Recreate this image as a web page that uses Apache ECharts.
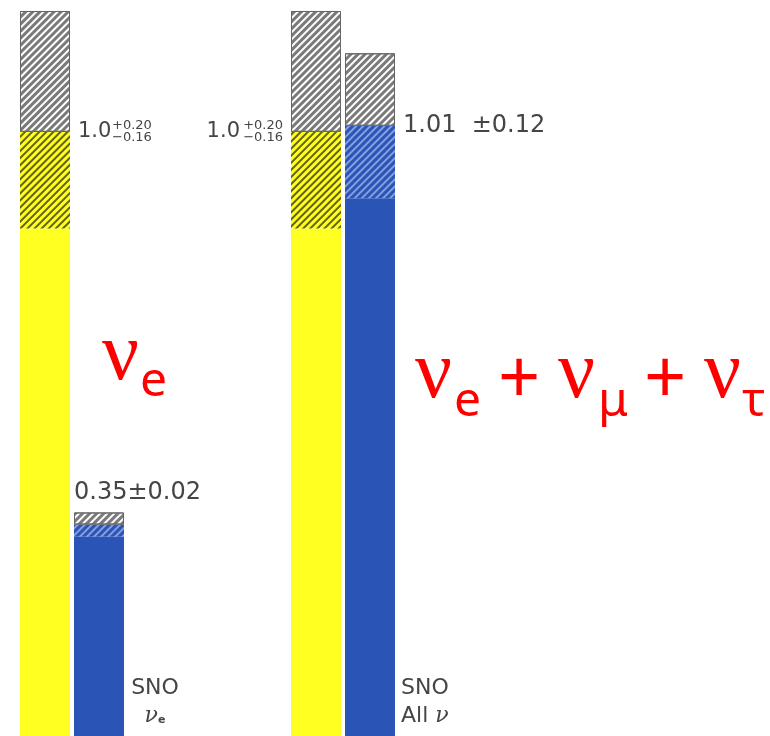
<!DOCTYPE html>
<html>
<head>
<meta charset="utf-8">
<script src="https://cdn.jsdelivr.net/npm/echarts@6/dist/echarts.min.js"></script>
<style>
  html, body { margin: 0; padding: 0; background: #ffffff; }
  #chart { width: 770px; height: 736px; }
</style>
</head>
<body>
<div id="chart"></div>
<script>
// Solar neutrino flux relative to the standard solar model (SSM)
const categories = ['SNO νe', 'SNO All ν'];
const ssmFlux = [1.0, 1.0];
const ssmErrUp = [0.20, 0.20];
const ssmErrDown = [0.16, 0.16];
const snoFlux = [0.35, 1.01];
const snoErr = [0.02, 0.12];
const snoTagTop = ['SNO', 'SNO'];
const snoTagBottom = ['νe', 'All ν'];

const YELLOW = '#ffff22';
const BLUE = '#2b54b7';
const INK = '#454545';
const RED = '#ff0000';

// diagonal "////" hatching
function hatch(color, dash, gap) {
  return {
    symbol: 'rect',
    symbolSize: 1,
    color: color,
    dashArrayX: [1, 0],
    dashArrayY: [dash, gap],
    rotation: -Math.PI / 4
  };
}

const fmt2 = v => v.toFixed(2);

// stacked segments: solid part, lower error band, upper error band
const ssmBase = ssmFlux.map((v, i) => +(v - ssmErrDown[i]).toFixed(4));
const snoBase = snoFlux.map((v, i) => +(v - snoErr[i]).toFixed(4));

const ssmLowData = ssmErrDown.map((v, i) => ({
  value: v,
  label: i === 0
    ? { position: ['100%', 0], offset: [8, 0], align: 'left' }
    : { position: [0, 0], offset: [-51, 0], align: 'right' }
}));

const ssmHighData = ssmErrUp.map((v, i) => ({
  value: v,
  label: i === 0
    ? { position: ['100%', '100%'], offset: [42, 0], align: 'left' }
    : { position: [0, '100%'], offset: [-8, 0], align: 'right' }
}));

const snoBaseData = snoBase.map((v, i) => ({
  value: v,
  label: i === 0
    ? { position: ['100%', '100%'], offset: [31, -6], align: 'center' }
    : { position: ['100%', '100%'], offset: [6, -6], align: 'left' }
}));

const snoHighData = snoErr.map((v, i) => ({
  value: v,
  label: i === 0
    ? { position: [0, 0], offset: [0, -8], align: 'left', verticalAlign: 'bottom' }
    : { position: ['100%', '100%'], offset: [8, 0], align: 'left', verticalAlign: 'middle' }
}));

const chart = echarts.init(document.getElementById('chart'), null, { renderer: 'canvas' });

const labelFont = { fontFamily: 'DejaVu Sans', color: INK };

function nuTag(s) {
  return s.replace(/ν(e?)/, (m, sub) => '{n|ν}' + (sub ? '{s|' + sub + '}' : ''));
}

const bigNu = '82px "Liberation Serif"';
const bigSub = '48px "Noto Sans"';
const bigPlus = '74px "Noto Sans"';

chart.setOption({
  animation: false,
  backgroundColor: '#ffffff',
  grid: { left: 72, width: 271, top: 11, bottom: -1, containLabel: false },
  xAxis: {
    type: 'category',
    data: categories,
    boundaryGap: false,
    show: false
  },
  yAxis: {
    type: 'value',
    min: 0,
    max: 1.2,
    show: false
  },
  series: [
    {
      name: 'SSM',
      type: 'bar',
      stack: 'ssm',
      barWidth: 50,
      barGap: '8%',
      data: ssmBase,
      itemStyle: { color: YELLOW }
    },
    {
      name: 'SSM low',
      type: 'bar',
      stack: 'ssm',
      barWidth: 50,
      barGap: '8%',
      data: ssmLowData,
      itemStyle: { color: YELLOW, decal: hatch('rgba(45,45,10,0.75)', 2, 3) },
      label: {
        show: true,
        ...labelFont,
        fontSize: 21,
        verticalAlign: 'middle',
        formatter: p => ssmFlux[p.dataIndex].toFixed(1)
      }
    },
    {
      name: 'SSM high',
      type: 'bar',
      stack: 'ssm',
      barWidth: 50,
      barGap: '8%',
      data: ssmHighData,
      itemStyle: {
        color: '#ffffff',
        borderColor: '#666666',
        borderWidth: 1,
        decal: hatch('#7a7a7a', 3, 2)
      },
      label: {
        show: true,
        ...labelFont,
        fontSize: 13,
        lineHeight: 12,
        verticalAlign: 'middle',
        formatter: p => '+' + fmt2(ssmErrUp[p.dataIndex]) + '\n−' + fmt2(ssmErrDown[p.dataIndex])
      }
    },
    {
      name: 'SNO',
      type: 'bar',
      stack: 'sno',
      barWidth: 50,
      barGap: '8%',
      data: snoBaseData,
      itemStyle: { color: BLUE },
      label: {
        show: true,
        ...labelFont,
        fontSize: 22,
        lineHeight: 28,
        verticalAlign: 'bottom',
        formatter: p => snoTagTop[p.dataIndex] + '\n' + nuTag(snoTagBottom[p.dataIndex]),
        rich: {
          n: { fontFamily: 'DejaVu Serif', fontStyle: 'italic', fontSize: 22, color: INK, lineHeight: 28 },
          s: { fontFamily: 'DejaVu Sans', fontWeight: 'bold', fontSize: 11, color: INK, lineHeight: 28, padding: [8, 0, 0, 0] }
        }
      }
    },
    {
      name: 'SNO low',
      type: 'bar',
      stack: 'sno',
      barWidth: 50,
      barGap: '8%',
      data: snoErr,
      itemStyle: { color: BLUE, decal: hatch('rgba(170,190,240,0.7)', 2, 3) }
    },
    {
      name: 'SNO high',
      type: 'bar',
      stack: 'sno',
      barWidth: 50,
      barGap: '8%',
      data: snoHighData,
      itemStyle: {
        color: '#ffffff',
        borderColor: '#666666',
        borderWidth: 1,
        decal: hatch('#7a7a7a', 3, 2)
      },
      label: {
        show: true,
        ...labelFont,
        fontSize: 24,
        formatter: p => {
          const i = p.dataIndex;
          return i === 0
            ? fmt2(snoFlux[i]) + '±' + fmt2(snoErr[i])
            : fmt2(snoFlux[i]) + '  ±' + fmt2(snoErr[i]);
        }
      }
    }
  ],
  graphic: [
    { type: 'text', z: 100, left: 102, top: 316, style: { text: 'ν', font: bigNu, fill: RED } },
    { type: 'text', z: 100, left: 140, top: 358, style: { text: 'e', font: bigSub, fill: RED } },

    { type: 'text', z: 100, left: 415, top: 334, style: { text: 'ν', font: bigNu, fill: RED } },
    { type: 'text', z: 100, left: 454, top: 378, style: { text: 'e', font: bigSub, fill: RED } },
    { type: 'text', z: 100, left: 498, top: 345, style: { text: '+', font: bigPlus, fill: RED } },
    { type: 'text', z: 100, left: 558, top: 334, style: { text: 'ν', font: bigNu, fill: RED } },
    { type: 'text', z: 100, left: 598, top: 378, style: { text: 'μ', font: bigSub, fill: RED } },
    { type: 'text', z: 100, left: 644, top: 345, style: { text: '+', font: bigPlus, fill: RED } },
    { type: 'text', z: 100, left: 704, top: 334, style: { text: 'ν', font: bigNu, fill: RED } },
    { type: 'text', z: 100, left: 742, top: 378, style: { text: 'τ', font: bigSub, fill: RED } }
  ]
});
</script>
</body>
</html>
